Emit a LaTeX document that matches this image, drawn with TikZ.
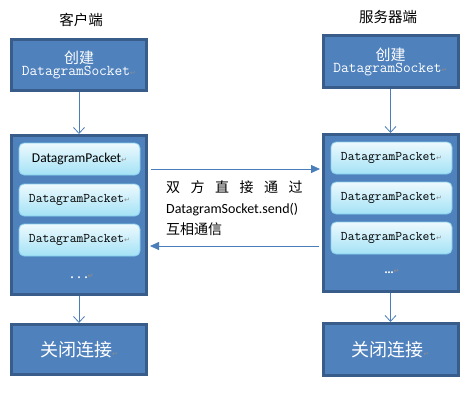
\documentclass[tikz,border=0pt]{standalone}
\usepackage{fontspec}
\setmainfont{Liberation Serif}
\newfontfamily\cjk{Noto Sans CJK SC}
\newfontfamily\calibri{Carlito}
\newfontfamily\symfont{DejaVu Sans}
\usetikzlibrary{arrows.meta}

\definecolor{boxfill}{HTML}{4F81BD}
\definecolor{boxedge}{HTML}{385D8A}
\definecolor{packetedge}{HTML}{86CFEA}
\definecolor{packetfill}{HTML}{A4E2F6}
\definecolor{arrowblue}{HTML}{4A7EBB}
\definecolor{markgray}{HTML}{8C8C8C}

% paragraph mark as printed in the picture
\newcommand\pmark{{\symfont\color{markgray}\fontsize{7}{7}\selectfont ↵}}
% serif mono text for class names
\newcommand\socketname{{\ttfamily\fontsize{15}{15}\selectfont DatagramSocket}}
\newcommand\packetname{{\ttfamily\fontsize{13.2}{13}\selectfont DatagramPacket}}

\tikzset{
  title/.style={font=\cjk\fontsize{14.5}{16}\selectfont},
  bluebox/.style={draw=boxedge, line width=3pt, fill=boxfill, text=white,
    minimum width=135pt, inner sep=0pt, align=center},
  packet/.style={draw=packetedge, line width=0.8pt, rounded corners=5pt,
    top color=packetfill!20, bottom color=packetfill,
    minimum width=121pt, minimum height=32pt, inner sep=0pt},
  flow/.style={draw=arrowblue, line width=0.8pt,
    -{Straight Barb[length=6pt,width=11pt]}},
  send/.style={draw=arrowblue, line width=0.8pt,
    -{Triangle[length=9pt,width=8pt]}}
}

\begin{document}
\begin{tikzpicture}[x=1pt,y=-1pt]
  \useasboundingbox (0,0) rectangle (476,400);

  % client side
  \node[title] (cTitle) at (81,20) {客户端};
  \node[bluebox, minimum height=51pt] (cTop) at (79,65)
    {{\cjk\fontsize{15}{23}\selectfont 创建}\\ \socketname\pmark};
  \node[bluebox, minimum height=159pt] (cMid) at (79,215) {};
  \node[packet] (cPack1) at (79.5,159)
    {\calibri\fontsize{13.5}{15}\selectfont DatagramPacket\pmark};
  \node[packet] (cPack2) at (79.5,200) {\packetname\pmark};
  \node[packet] (cPack3) at (79.5,240) {\packetname\pmark};
  \node[text=white, font=\bfseries\fontsize{12}{14}\selectfont] (cDots) at (82,276)
    {.\hspace{4pt}.\hspace{4pt}.\pmark};
  \node[bluebox, minimum height=50pt] (cEnd) at (79,349.5)
    {{\cjk\fontsize{18}{20}\selectfont 关闭连接}\pmark};

  % server side
  \node[title] (sTitle) at (388,17) {服务器端};
  \node[bluebox, minimum height=52pt] (sTop) at (390.5,61.5)
    {{\cjk\fontsize{15}{23}\selectfont 创建}\\ \socketname\pmark};
  \node[bluebox, minimum height=157pt] (sMid) at (390.5,213) {};
  \node[packet] (sPack1) at (391.5,158) {\packetname\pmark};
  \node[packet] (sPack2) at (391.5,198) {\packetname\pmark};
  \node[packet] (sPack3) at (391.5,238) {\packetname\pmark};
  \node[text=white, font=\bfseries\fontsize{12}{14}\selectfont] (sDots) at (392,271)
    {...\pmark};
  \node[bluebox, minimum height=52pt] (sEnd) at (390.5,349.5)
    {{\cjk\fontsize{18}{20}\selectfont 关闭连接}\pmark};

  % vertical flow
  \draw[flow] (cTop) -- (cMid);
  \draw[flow] (cMid) -- (cEnd);
  \draw[flow] (sTop) -- (sMid);
  \draw[flow] (sMid) -- (sEnd);

  % exchange between the two sides
  \coordinate (toServerL) at (151,169);
  \coordinate (toServerR) at (320,169);
  \coordinate (toClientR) at (319,246);
  \coordinate (toClientL) at (150,246);
  \draw[send] (toServerL) -- (toServerR);
  \draw[send] (toClientR) -- (toClientL);
  \node[anchor=west, align=left, inner sep=0pt,
    font=\cjk\fontsize{14}{21}\selectfont] (sendText) at (166,208)
    {双\hspace{10.5pt}方\hspace{10.5pt}直\hspace{10.5pt}接\hspace{10.5pt}通\hspace{10.5pt}过\\
     {\calibri DatagramSocket.send()}\\
     互相通信};
\end{tikzpicture}
\end{document}
